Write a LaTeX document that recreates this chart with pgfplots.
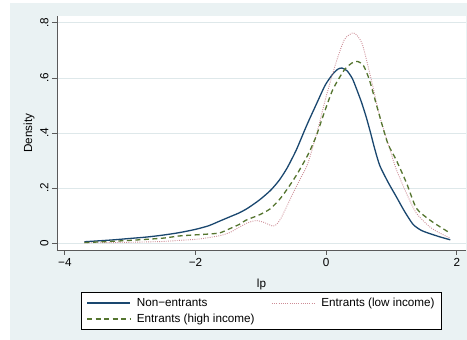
\documentclass[border=0pt]{standalone}
\usepackage{fontspec}
\setmainfont{Liberation Sans}
\usepackage{pgfplots}
\pgfplotsset{compat=1.18}

\definecolor{stnavy}{RGB}{26,71,111}
\definecolor{stmaroon}{RGB}{205,140,150}
\definecolor{stgreen}{RGB}{85,117,47}
\definecolor{stbg}{RGB}{234,242,243}
\definecolor{stgrid}{RGB}{222,232,234}
\definecolor{staxis}{RGB}{90,90,90}

\newcommand{\lbl}{\fontsize{11.7}{14}\selectfont}

\tikzset{
  navyline/.style={stnavy, line width=1.3pt},
  lowline/.style={stmaroon, line width=0.9pt, dash pattern=on 0.9pt off 1.3pt},
  highline/.style={stgreen, line width=1.3pt, dash pattern=on 5pt off 3.5pt},
}

\begin{document}
\begin{tikzpicture}
% outer graph region; the plot area's lower-left corner sits at the origin
\fill[white] (-57pt,-90pt) rectangle (410pt,250pt);
\fill[stbg] (-47pt,-90pt) rectangle (410pt,247pt);
\useasboundingbox (-57pt,-90pt) rectangle (410pt,250pt);
\begin{axis}[
  anchor=south west,
  scale only axis, width=409pt, height=234pt,
  xmin=-4.12, xmax=2.14, ymin=-0.025, ymax=0.825,
  axis x line*=bottom, axis y line*=left,
  x axis line style={-}, y axis line style={-},
  axis line style={staxis, line width=0.8pt},
  axis background/.style={fill=white},
  tick align=outside, major tick length=5pt,
  tick style={staxis, line width=0.8pt},
  xtick={-4,-2,0,2}, xticklabels={−4,−2,0,2},
  ytick={0,0.2,0.4,0.6,0.8}, yticklabels={0,.2,.4,.6,.8},
  ymajorgrids, grid style={stgrid, line width=0.8pt},
  tick label style={font=\lbl},
  yticklabel style={rotate=90, anchor=south},
  xlabel={lp}, ylabel={Density},
  every axis x label/.style={at={(axis description cs:0.5,0)}, yshift=-34pt, anchor=center, font=\lbl},
  every axis y label/.style={at={(axis description cs:0,0.5)}, xshift=-28pt, rotate=90, anchor=center, font=\lbl},
  legend columns=2,
  legend cell align=left,
  legend style={at={(axis description cs:0.059,-0.180)}, anchor=north west,
    draw=black, line width=0.8pt, fill=white, font=\lbl,
    inner xsep=5pt, inner ysep=3.5pt, row sep=2pt,
    nodes={inner sep=2pt},
    /tikz/every odd column/.append style={column sep=4pt},
    /tikz/every even column/.append style={column sep=15pt}},
]
% Non-entrants
\addplot[navyline, smooth, tension=0.4,
  legend image code/.code={\draw[navyline] (0pt,0pt) -- (43pt,0pt);}] coordinates {
(-3.70,0.005) (-3.50,0.008) (-3.25,0.012) (-3.00,0.017) (-2.75,0.022)
(-2.50,0.029) (-2.25,0.038) (-2.00,0.050) (-1.80,0.063) (-1.63,0.080)
(-1.45,0.098) (-1.33,0.110) (-1.20,0.127) (-1.02,0.157) (-0.85,0.192)
(-0.72,0.228) (-0.60,0.272) (-0.46,0.337) (-0.33,0.410) (-0.26,0.448)
(-0.15,0.505) (-0.05,0.557) (0.00,0.580) (0.10,0.614) (0.18,0.632)
(0.24,0.636) (0.32,0.626) (0.40,0.598) (0.46,0.563) (0.54,0.512)
(0.61,0.460) (0.68,0.400) (0.74,0.345) (0.82,0.282) (0.95,0.220)
(1.07,0.170) (1.20,0.115) (1.33,0.068) (1.45,0.047) (1.58,0.035)
(1.75,0.022) (1.90,0.012)
};
% Entrants (low income)
\addplot[lowline, smooth, tension=0.4,
  legend image code/.code={\draw[lowline] (0pt,0pt) -- (43pt,0pt);}] coordinates {
(-3.70,0.001) (-3.25,0.002) (-3.00,0.003) (-2.50,0.006) (-2.25,0.010)
(-1.94,0.015) (-1.63,0.027) (-1.48,0.038) (-1.33,0.058) (-1.20,0.074)
(-1.07,0.082) (-0.95,0.075) (-0.82,0.062) (-0.76,0.068) (-0.69,0.091)
(-0.60,0.135) (-0.51,0.180) (-0.40,0.232) (-0.28,0.290) (-0.13,0.412)
(0.00,0.533) (0.15,0.655) (0.28,0.740) (0.41,0.764) (0.48,0.752)
(0.56,0.718) (0.69,0.594) (0.82,0.460) (0.97,0.345) (1.07,0.270)
(1.23,0.180) (1.38,0.109) (1.58,0.060) (1.75,0.035) (1.90,0.018)
};
% Entrants (high income)
\addplot[highline, smooth, tension=0.4,
  legend image code/.code={\draw[highline] (0pt,0pt) -- (43pt,0pt);}] coordinates {
(-3.70,0.002) (-3.50,0.004) (-3.00,0.010) (-2.50,0.018) (-2.25,0.026)
(-2.00,0.030) (-1.80,0.033) (-1.63,0.037) (-1.48,0.052) (-1.33,0.068)
(-1.23,0.083) (-1.02,0.103) (-0.86,0.124) (-0.72,0.157) (-0.60,0.195)
(-0.46,0.245) (-0.35,0.290) (-0.26,0.330) (-0.15,0.390) (-0.05,0.460)
(0.10,0.557) (0.28,0.630) (0.40,0.655) (0.48,0.660) (0.57,0.645)
(0.66,0.594) (0.79,0.485) (0.94,0.364) (1.07,0.303) (1.23,0.218)
(1.38,0.127) (1.58,0.085) (1.75,0.058) (1.90,0.036)
};
\legend{Non−entrants, Entrants (low income), Entrants (high income)}
\end{axis}
\end{tikzpicture}
\end{document}
